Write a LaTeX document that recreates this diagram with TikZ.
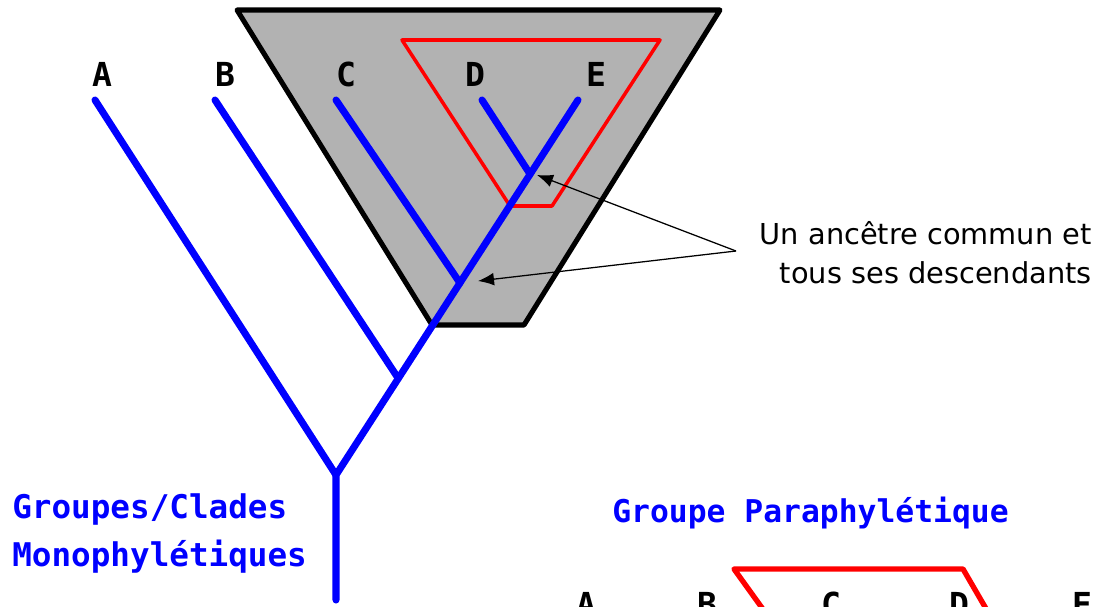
\documentclass[tikz,border=0pt]{standalone}
\usepackage{fontspec}
\setmainfont{DejaVu Sans}
\setmonofont{DejaVu Sans Mono}
\usepackage{tikz}
\usetikzlibrary{arrows.meta, positioning}

\begin{document}
\begin{tikzpicture}[
    x=0.025cm, y=-0.025cm,
    branch/.style={draw=blue, line width=5pt, line cap=round},
    taxon/.style={anchor=base, inner sep=0pt, font=\fontsize{23.5}{28}\selectfont\ttfamily\bfseries},
    title/.style={anchor=base west, inner sep=0pt, text=blue, font=\fontsize{23.2}{28}\selectfont\ttfamily\bfseries},
    note/.style={anchor=base east, inner sep=0pt, font=\fontsize{20.5}{26}\selectfont},
    pointer/.style={-{Latex[length=4mm, width=3.2mm]}, line width=0.9pt}
]
\useasboundingbox (0,0) rectangle (1097,606);
\clip (0,0) rectangle (1097,606);

% monophyletic clade and sub-clade
\draw[line width=3.6pt, line join=round, fill=black!30] (237,10) -- (720,10) -- (524,325) -- (432,325) -- cycle;
\draw[red, line width=2.5pt, line join=round] (402,40) -- (660,40) -- (552,206) -- (510,206) -- cycle;

% tree
\coordinate (root) at (336,600);
\coordinate (nAB) at (336,475);
\coordinate (nBC) at (398,378);
\coordinate (nC) at (460,283);
\coordinate (nDE) at (530,174);
\coordinate (tA) at (95,100);
\coordinate (tB) at (215,100);
\coordinate (tC) at (336,100);
\coordinate (tD) at (482,100);
\coordinate (tE) at (578,100);

\draw[branch] (root) -- (nAB) -- (tE);
\draw[branch] (nAB) -- (tA);
\draw[branch] (nBC) -- (tB);
\draw[branch] (nC) -- (tC);
\draw[branch] (nDE) -- (tD);

\node[taxon] (A) at (102,86) {A};
\node[taxon] (B) at (225,86) {B};
\node[taxon] (C) at (346,86) {C};
\node[taxon] (D) at (475,86) {D};
\node[taxon] (E) at (596,86) {E};

% annotation
\node[note] (note1) at (1092,244) {Un ancêtre commun et};
\node[note] (note2) at (1092,283) {tous ses descendants};
\coordinate (hub) at (736,251);
\coordinate (pDE) at (537,175);
\coordinate (pC) at (478,281);
\draw[pointer] (hub) -- (pDE);
\draw[pointer] (hub) -- (pC);

\node[title] (mono1) at (12,518) {Groupes/Clades};
\node[title] (mono2) at (12,566) {Monophylétiques};
\node[title, font=\fontsize{22.3}{27}\selectfont\ttfamily\bfseries] (para) at (612,522) {Groupe Paraphylétique};

% second tree (cut off)
\draw[red, line width=3.8pt, line join=round] (770,619) -- (734,569) -- (963,569) -- (992,619);
\node[taxon] (A2) at (586,616) {A};
\node[taxon] (B2) at (707,616) {B};
\node[taxon] (C2) at (831,616) {C};
\node[taxon] (D2) at (959,616) {D};
\node[taxon] (E2) at (1082,616) {E};
\end{tikzpicture}
\end{document}
